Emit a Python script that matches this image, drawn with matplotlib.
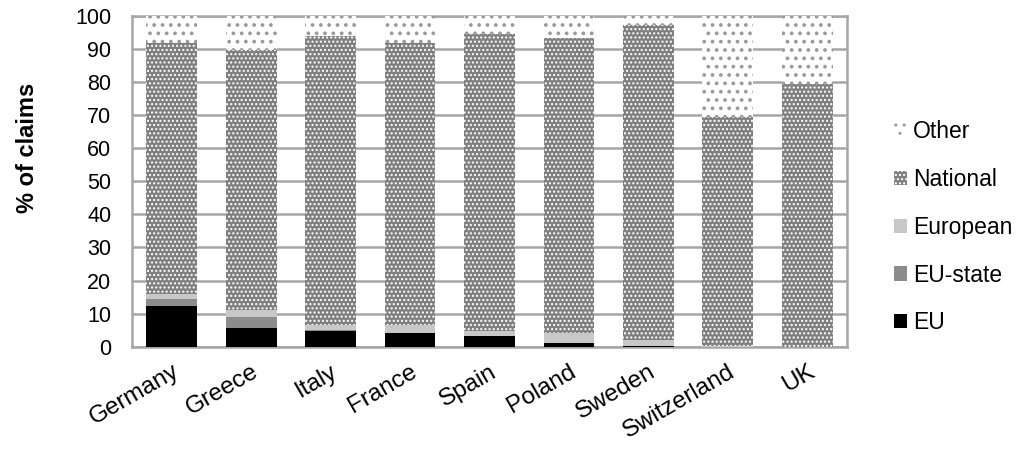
import matplotlib
matplotlib.use("Agg")
import matplotlib.pyplot as plt
import numpy as np

plt.rcParams['font.family'] = ['Liberation Sans', 'DejaVu Sans']

countries = ['Germany', 'Greece', 'Italy', 'France', 'Spain', 'Poland',
             'Sweden', 'Switzerland', 'UK']
eu = [12.4, 5.7, 4.8, 4.0, 3.2, 1.2, 0.3, 0.0, 0.0]
eu_state = [2.0, 3.2, 0.3, 0.2, 0.0, 0.0, 0.0, 0.0, 0.0]
european = [1.5, 2.2, 1.4, 2.3, 1.6, 2.8, 1.6, 0.2, 0.0]
national = [75.8, 78.7, 87.6, 85.2, 89.9, 89.5, 95.3, 69.3, 79.4]
other = [8.3, 10.2, 5.9, 8.3, 5.3, 6.5, 2.8, 30.5, 20.6]

grid_col = '#a6a6a6'

fig = plt.figure(figsize=(10.18, 4.51), dpi=100)
ax = fig.add_axes([0.1297, 0.2313, 0.7023, 0.7332])

x = np.arange(len(countries))
w = 0.64
bottom = np.zeros(len(countries))
handles = []

h = ax.bar(x, eu, w, bottom=bottom, color='#000000', label='EU', zorder=3)
handles.append(h)
bottom += eu
h = ax.bar(x, eu_state, w, bottom=bottom, color='#8c8c8c', label='EU-state', zorder=3)
handles.append(h)
bottom += eu_state
h = ax.bar(x, european, w, bottom=bottom, color='#c8c8c8', label='European', zorder=3)
handles.append(h)
bottom += european
with plt.rc_context({'hatch.linewidth': 1.0}):
    h = ax.bar(x, national, w, bottom=bottom, facecolor='#7f7f7f', edgecolor='white',
               hatch='....', linewidth=0, label='National', zorder=3)
handles.append(h)
bottom += national
with plt.rc_context({'hatch.linewidth': 1.5}):
    h = ax.bar(x, other, w, bottom=bottom, facecolor='white', edgecolor='#9a9a9a',
               hatch='..', linewidth=0, label='Other', zorder=3)
handles.append(h)

ax.set_xlim(-0.5, len(countries) - 0.5)
ax.set_ylim(0, 100)
ax.set_yticks(np.arange(0, 101, 10))
ax.yaxis.grid(True, color=grid_col, linewidth=1.8, zorder=0)
ax.set_axisbelow(True)
for s in ax.spines.values():
    s.set_color(grid_col)
    s.set_linewidth(1.8)

ax.set_xticks(x)
ax.set_xticklabels(countries, rotation=30, ha='right', va='top',
                   rotation_mode='anchor', fontsize=17.5)
ax.tick_params(axis='x', length=0, pad=10)
ax.tick_params(axis='y', length=0, labelsize=15.5, pad=15)

fig.text(27 / 1018, 0.672, '% of claims', rotation=90, ha='center', va='center',
         fontsize=17, fontweight='bold')

ax.legend(handles[::-1], [hh.get_label() for hh in handles[::-1]],
          loc='center left', bbox_to_anchor=(1.066, 0.361), frameon=False,
          fontsize=16.5, labelspacing=1.08, handlelength=0.57, handleheight=0.57,
          handletextpad=0.25, borderpad=0, borderaxespad=0)

fig.savefig('out.png', dpi=100)
